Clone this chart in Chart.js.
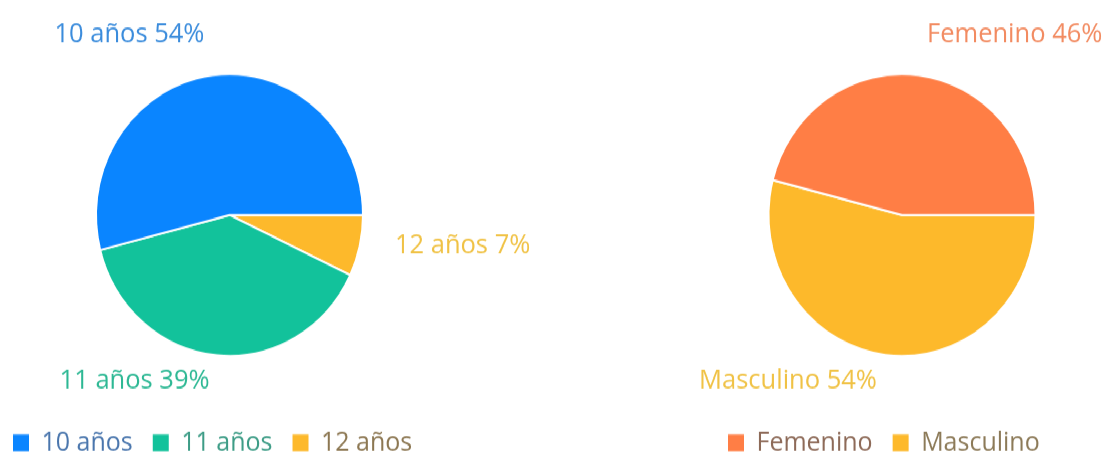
<!DOCTYPE html>
<html>
<head>
<meta charset="utf-8">
<script src="https://cdn.jsdelivr.net/npm/chart.js@4.4.1/dist/chart.umd.min.js"></script>
<style>
html, body { margin: 0; padding: 0; background: #fff; overflow: hidden; width: 1102px; height: 454px; }
#wrap { position: absolute; left: 0; top: 0; width: 1102px; height: 430px; transform: scaleY(1.0558); transform-origin: 0 0; }
#edadChart { position: absolute; left: -7px; top: 0; }
#sexoChart { position: absolute; left: 682px; top: 0; }
</style>
</head>
<body>
<div id="wrap">
  <canvas id="edadChart" width="560" height="443"></canvas>
  <canvas id="sexoChart" width="420" height="443"></canvas>
</div>
<script>
/* ================= DATA ================= */
var edadLabels = ["10 años", "11 años", "12 años"];
var edadValues = [54, 39, 7];
var edadColors = ["#0a85ff", "#12c29b", "#fdb92b"];
var edadLabelColors = ["#3b8cdc", "#2db894", "#f0c245"];
var edadLegendColors = ["#4a76ad", "#3d9c86", "#8c7752"];

var sexoLabels = ["Femenino", "Masculino"];
var sexoValues = [46, 54];
var sexoColors = ["#ff7e45", "#fdb92b"];
var sexoLabelColors = ["#f28b61", "#f0c245"];
var sexoLegendColors = ["#8d6a58", "#8c7a58"];

var FONT = "'Open Sans', 'Noto Sans', sans-serif";

/* ================= PLUGIN ================= */
// labels "name xx%" around the pie, coloured like the slice
var outsideLabels = {
    id: "outsideLabels",
    afterDraw: function (chart, args, opts) {
        var ctx = chart.ctx;
        var meta = chart.getDatasetMeta(0);
        var data = chart.data.datasets[0].data;
        ctx.save();
        ctx.font = "25.5px " + FONT;
        ctx.textBaseline = "middle";
        meta.data.forEach(function (arc, i) {
            var p = arc.getProps(["x", "y", "startAngle", "endAngle", "outerRadius"], true);
            var mid = (p.startAngle + p.endAngle) / 2;
            var d = p.outerRadius + 31.5;
            var cos = Math.cos(mid), sin = Math.sin(mid);
            var side = cos >= 0 ? 1 : -1;
            ctx.textAlign = side > 0 ? "left" : "right";
            ctx.fillStyle = opts.colors[i];
            ctx.fillText(chart.data.labels[i] + " " + data[i] + "%", p.x + cos * d + side * 4.4, p.y + sin * d - 7);
        });
        ctx.restore();
    }
};

/* ================= HELPERS ================= */
function legendLabels(textColors) {
    return function (chart) {
        var items = Chart.overrides.pie.plugins.legend.labels.generateLabels(chart);
        items.forEach(function (it) {
            it.fontColor = textColors[it.index];
            it.lineWidth = 0;
            it.strokeStyle = "rgba(0,0,0,0)";
        });
        return items;
    };
}

// slices are drawn counter-clockwise from 3 o'clock in the original,
// so the data goes in reversed and the legend is reversed back
function renderPie(id, labels, values, colors, labelColors, legendColors, padding) {
    var rev = function (a) { return a.slice().reverse(); };
    var canvas = document.getElementById(id);
    return new Chart(canvas.getContext("2d"), {
        type: "pie",
        data: {
            labels: rev(labels),
            datasets: [{
                data: rev(values),
                backgroundColor: rev(colors),
                borderColor: "#ffffff",
                borderWidth: 2
            }]
        },
        options: {
            responsive: false,
            animation: false,
            events: [],
            rotation: 90,
            radius: 133.5,
            layout: { padding: padding },
            plugins: {
                tooltip: { enabled: false },
                outsideLabels: { colors: rev(labelColors) },
                legend: {
                    position: "bottom",
                    align: "start",
                    reverse: true,
                    labels: {
                        boxWidth: 16,
                        boxHeight: 16,
                        padding: 20,
                        font: { family: FONT, size: 25 },
                        generateLabels: legendLabels(rev(legendColors))
                    }
                }
            }
        },
        plugins: [outsideLabels]
    });
}

renderPie("edadChart", edadLabels, edadValues, edadColors, edadLabelColors, edadLegendColors,
    { left: 0, right: 87, top: 20.4, bottom: 1 });
renderPie("sexoChart", sexoLabels, sexoValues, sexoColors, sexoLabelColors, sexoLegendColors,
    { left: 26, right: 6, top: 20.4, bottom: 1 });
</script>
</body>
</html>
